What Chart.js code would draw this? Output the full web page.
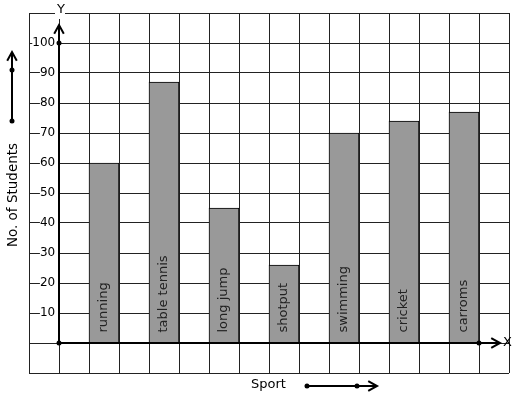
<!DOCTYPE html>
<html>
<head>
<meta charset="utf-8">
<script src="https://cdn.jsdelivr.net/npm/chart.js@4.4.1/dist/chart.umd.min.js"></script>
<style>
  html, body { margin: 0; padding: 0; background: #fff; }
  #wrap { width: 517px; height: 399px; }
</style>
</head>
<body>
<div id="wrap"><canvas id="sportChart" width="517" height="399"></canvas></div>
<script>
const sports = ['running', 'table tennis', 'long jump', 'shotput', 'swimming', 'cricket', 'carroms'];
const students = [60, 87, 45, 26, 70, 74, 77];
const yTicks = [10, 20, 30, 40, 50, 60, 70, 80, 90, 100];

// each sport sits in every other grid cell, starting one cell right of the Y axis
const barPoints = sports.map((s, i) => ({ x: 1.5 + 2 * i, y: students[i] }));

Chart.defaults.font.family = 'DejaVu Sans';

function arrowLine(ctx, x1, y1, x2, y2, dots) {
  ctx.beginPath();
  ctx.moveTo(x1, y1);
  ctx.lineTo(x2, y2);
  ctx.stroke();
  const a = Math.atan2(y2 - y1, x2 - x1);
  const L = 10, w = 0.5;
  ctx.beginPath();
  ctx.moveTo(x2 - L * Math.cos(a - w), y2 - L * Math.sin(a - w));
  ctx.lineTo(x2, y2);
  ctx.lineTo(x2 - L * Math.cos(a + w), y2 - L * Math.sin(a + w));
  ctx.stroke();
  dots.forEach(d => {
    ctx.beginPath();
    ctx.arc(d[0], d[1], 2.5, 0, Math.PI * 2);
    ctx.fill();
  });
}

const decorations = {
  id: 'decorations',
  afterDatasetsDraw(chart) {
    const ctx = chart.ctx;
    const xs = chart.scales.x, ys = chart.scales.y;

    // labels inside the bars
    ctx.save();
    ctx.fillStyle = '#222';
    ctx.font = '13px "DejaVu Sans"';
    ctx.textAlign = 'left';
    ctx.textBaseline = 'middle';
    chart.getDatasetMeta(0).data.forEach((bar, i) => {
      ctx.save();
      ctx.translate(bar.x, bar.base - 10);
      ctx.rotate(-Math.PI / 2);
      ctx.fillText(sports[i], 0, 0);
      ctx.restore();
    });
    ctx.restore();

    // axes with arrows
    const x0 = Math.round(xs.getPixelForValue(0));
    const y0 = Math.round(ys.getPixelForValue(0));
    ctx.save();
    ctx.strokeStyle = '#000';
    ctx.fillStyle = '#000';
    ctx.lineWidth = 2;
    arrowLine(ctx, x0, y0, xs.getPixelForValue(14.7), y0, [[x0, y0], [xs.getPixelForValue(14), y0]]);
    arrowLine(ctx, x0, y0, x0, ys.getPixelForValue(106), [[x0, ys.getPixelForValue(100)]]);

    // direction arrows beside the titles
    arrowLine(ctx, 12, 121, 12, 52, [[12, 121], [12, 70]]);
    arrowLine(ctx, 307, 386, 377, 386, [[307, 386], [357, 386]]);

    ctx.font = '13px "DejaVu Sans"';
    ctx.textBaseline = 'middle';
    ctx.textAlign = 'left';
    ctx.fillText('X', 503, y0);
    ctx.fillStyle = '#fff';
    ctx.fillRect(x0 - 4, 5, 10, 14);
    ctx.fillStyle = '#000';
    ctx.textAlign = 'center';
    ctx.fillText('Y', x0 + 2, 10);

    ctx.textAlign = 'left';
    ctx.fillText('Sport', 251, 385);
    ctx.save();
    ctx.translate(13, 195);
    ctx.rotate(-Math.PI / 2);
    ctx.textAlign = 'center';
    ctx.font = '13.5px "DejaVu Sans"';
    ctx.fillText('No. of Students', 0, 0);
    ctx.restore();
    ctx.restore();
  }
};

const ctx = document.getElementById('sportChart').getContext('2d');
const sportChart = new Chart(ctx, {
  type: 'bar',
  data: {
    datasets: [{
      label: 'No. of Students',
      data: barPoints,
      backgroundColor: '#999999',
      borderColor: '#000',
      borderWidth: 1,
      categoryPercentage: 1,
      barPercentage: 1
    }]
  },
  options: {
    responsive: false,
    animation: false,
    devicePixelRatio: 1,
    layout: { padding: { left: 29, top: 13, right: 8, bottom: 26 } },
    plugins: { legend: { display: false }, tooltip: { enabled: false } },
    scales: {
      x: {
        type: 'linear',
        min: -1,
        max: 15,
        offset: false,
        position: { y: 0 },
        grid: { color: '#222', lineWidth: 1, drawTicks: false, offset: false },
        border: { display: false },
        ticks: { stepSize: 1, display: false }
      },
      y: {
        type: 'linear',
        min: -10,
        max: 110,
        position: { x: 0 },
        grid: { color: '#222', lineWidth: 1, drawTicks: false },
        border: { display: false },
        ticks: {
          stepSize: 10,
          padding: 5,
          color: '#000',
          font: { size: 12 },
          showLabelBackdrop: true,
          backdropColor: '#fff',
          backdropPadding: { left: 0, right: 0, top: 0, bottom: 0 },
          // trailing space keeps the number clear of the axis line
          callback: v => yTicks.includes(v) ? v + ' ' : ''
        }
      }
    }
  },
  plugins: [decorations]
});
</script>
</body>
</html>
